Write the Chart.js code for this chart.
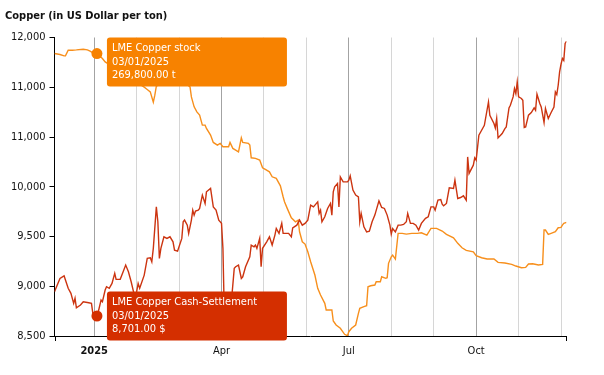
<!DOCTYPE html>
<html><head><meta charset="utf-8">
<script src="https://cdn.jsdelivr.net/npm/chart.js@4.4.1/dist/chart.umd.min.js"></script>
<style>html,body{margin:0;padding:0;background:#fff}#wrap{width:604px;height:375px;position:relative}</style>
</head><body><div id="wrap"><canvas id="c" width="604" height="375"></canvas></div>
<script>
const FONT = "'DejaVu Sans Condensed','Liberation Sans',sans-serif";
const titleText = 'Copper (in US Dollar per ton)';
const cashLabel = 'LME Copper Cash-Settlement';
const stockLabel = 'LME Copper stock';
const cashUnit = '$';
const stockUnit = 't';
const activeDate = '2025-01-03';
const xStart = '2024-12-03';
const xEnd = '2025-12-05';
// month gridlines: position 0 = Jan 2025 ... 11 = Dec 2025
const monthTickLabels = ['2025','','','Apr','','','Jul','','','Oct','',''];
const yMin = 8500, yMax = 11500, yStep = 500;
const stockMin = 90000, stockMax = 280000;

const cashDates = ['2024-12-03','2024-12-07','2024-12-10','2024-12-11','2024-12-13','2024-12-15','2024-12-17','2024-12-18','2024-12-19','2024-12-22','2024-12-24','2024-12-28','2024-12-30','2024-12-31',
'2025-01-03','2025-01-04','2025-01-06','2025-01-07','2025-01-09','2025-01-10','2025-01-12','2025-01-14','2025-01-16','2025-01-17','2025-01-20','2025-01-22','2025-01-24','2025-01-26','2025-01-28','2025-01-30','2025-01-31',
'2025-02-01','2025-02-02','2025-02-03','2025-02-06','2025-02-08','2025-02-10','2025-02-11','2025-02-12','2025-02-14','2025-02-15','2025-02-16','2025-02-17','2025-02-19','2025-02-21','2025-02-23','2025-02-25','2025-02-26','2025-02-28',
'2025-03-03','2025-03-04','2025-03-05','2025-03-07','2025-03-08','2025-03-10','2025-03-11','2025-03-12','2025-03-13','2025-03-15','2025-03-16','2025-03-18','2025-03-20','2025-03-21','2025-03-24','2025-03-26','2025-03-28','2025-03-30',
'2025-04-01','2025-04-02','2025-04-03','2025-04-04','2025-04-07','2025-04-08','2025-04-10','2025-04-11','2025-04-13','2025-04-15','2025-04-16','2025-04-18','2025-04-21','2025-04-22','2025-04-24','2025-04-25','2025-04-26','2025-04-28','2025-04-29','2025-04-30',
'2025-05-03','2025-05-05','2025-05-07','2025-05-09','2025-05-10','2025-05-12','2025-05-14','2025-05-15','2025-05-17','2025-05-19','2025-05-21','2025-05-22','2025-05-25','2025-05-27','2025-05-29','2025-05-31',
'2025-06-02','2025-06-04','2025-06-06','2025-06-09','2025-06-10','2025-06-11','2025-06-12','2025-06-14','2025-06-16','2025-06-18','2025-06-19','2025-06-20','2025-06-21','2025-06-23','2025-06-24','2025-06-25','2025-06-27','2025-06-29','2025-06-30',
'2025-07-01','2025-07-02','2025-07-04','2025-07-06','2025-07-08','2025-07-09','2025-07-10','2025-07-12','2025-07-14','2025-07-16','2025-07-18','2025-07-20','2025-07-23','2025-07-25','2025-07-27','2025-07-29','2025-07-31',
'2025-08-01','2025-08-02','2025-08-04','2025-08-06','2025-08-08','2025-08-10','2025-08-12','2025-08-13','2025-08-15','2025-08-17','2025-08-19','2025-08-21','2025-08-23','2025-08-26','2025-08-28','2025-08-30',
'2025-09-01','2025-09-02','2025-09-04','2025-09-06','2025-09-07','2025-09-08','2025-09-10','2025-09-12','2025-09-15','2025-09-16','2025-09-18','2025-09-20','2025-09-22','2025-09-24','2025-09-25','2025-09-26','2025-09-29','2025-09-30',
'2025-10-01','2025-10-03','2025-10-05','2025-10-07','2025-10-10','2025-10-11','2025-10-14','2025-10-15','2025-10-16','2025-10-17','2025-10-20','2025-10-22','2025-10-23','2025-10-25','2025-10-26','2025-10-28','2025-10-29','2025-10-30','2025-10-31',
'2025-11-01','2025-11-03','2025-11-04','2025-11-05','2025-11-06','2025-11-08','2025-11-10','2025-11-12','2025-11-13','2025-11-14','2025-11-16','2025-11-17','2025-11-19','2025-11-20','2025-11-22','2025-11-24','2025-11-26','2025-11-27','2025-11-28','2025-11-29','2025-11-30',
'2025-12-01','2025-12-02','2025-12-03','2025-12-04','2025-12-05'];
const cashValues = [8945,9079,9105,9062,8979,8929,8828,8879,8784,8811,8844,8834,8828,8728,
8701,8744,8861,8844,8962,8995,8979,9029,9130,9069,9070,9140,9213,9146,9045,8929,8880,
8945,9029,8979,9112,9280,9286,9246,9381,9798,9648,9280,9381,9497,9481,9497,9447,9363,9353,
9481,9648,9665,9614,9531,9665,9765,9715,9755,9765,9782,9916,9832,9949,9983,9798,9765,9665,
9632,9381,8700,8400,8300,8850,9180,9196,9213,9079,9095,9196,9296,9414,9397,9414,9381,9481,9196,9381,
9447,9497,9414,9514,9581,9531,9632,9531,9531,9531,9497,9587,9614,9665,9614,9632,
9665,9815,9798,9848,9732,9765,9648,9698,9782,9832,9715,9949,9999,10033,9798,10099,10049,10049,10049,
10066,10109,9966,9916,9899,9648,9732,9597,9547,9554,9648,9715,9858,9792,9782,9715,9614,
9524,9581,9547,9614,9614,9621,9648,9732,9632,9632,9614,9564,9632,9682,9698,9798,
9798,9765,9866,9872,9825,9808,9832,9989,9983,10066,9882,9892,9909,9865,10300,10134,10217,10290,
10267,10518,10568,10618,10852,10719,10636,10591,10686,10491,10535,10585,10601,10792,10819,10903,10987,10937,11053,
10903,10887,10869,10595,10601,10719,10746,10792,10769,10930,10836,10802,10646,10786,10686,10746,10802,10953,10927,11020,11154,
11231,11290,11270,11440,11462];

const stockDates = ['2024-12-03','2024-12-07','2024-12-10','2024-12-11','2024-12-13','2024-12-16','2024-12-19','2024-12-24','2024-12-27','2024-12-29','2024-12-31',
'2025-01-03','2025-01-07','2025-01-09','2025-01-14','2025-01-20','2025-01-27',
'2025-02-03','2025-02-06','2025-02-08','2025-02-10','2025-02-12','2025-02-13','2025-02-14','2025-02-20','2025-02-27',
'2025-03-04','2025-03-07','2025-03-09','2025-03-10','2025-03-12','2025-03-14','2025-03-16','2025-03-18','2025-03-20','2025-03-21','2025-03-24','2025-03-26','2025-03-29','2025-03-31',
'2025-04-02','2025-04-06','2025-04-07','2025-04-09','2025-04-11','2025-04-13','2025-04-15','2025-04-16','2025-04-20','2025-04-21','2025-04-22','2025-04-25','2025-04-28','2025-04-30',
'2025-05-02','2025-05-05','2025-05-07','2025-05-10','2025-05-13','2025-05-15','2025-05-16','2025-05-18','2025-05-21','2025-05-24','2025-05-26','2025-05-27','2025-05-29','2025-05-31',
'2025-06-02','2025-06-04','2025-06-07','2025-06-09','2025-06-11','2025-06-14','2025-06-15','2025-06-19','2025-06-20','2025-06-22','2025-06-25','2025-06-28','2025-06-30',
'2025-07-01','2025-07-03','2025-07-06','2025-07-08','2025-07-09','2025-07-12','2025-07-14','2025-07-15','2025-07-17','2025-07-20','2025-07-21','2025-07-24','2025-07-25','2025-07-28','2025-07-29','2025-07-30',
'2025-08-01','2025-08-02','2025-08-04','2025-08-06','2025-08-09','2025-08-12','2025-08-16','2025-08-20','2025-08-23','2025-08-27','2025-08-30',
'2025-09-03','2025-09-07','2025-09-10','2025-09-15','2025-09-18','2025-09-21','2025-09-24','2025-09-29',
'2025-10-01','2025-10-05','2025-10-09','2025-10-14','2025-10-17','2025-10-22','2025-10-27','2025-10-30',
'2025-11-03','2025-11-06','2025-11-08','2025-11-11','2025-11-15','2025-11-18','2025-11-19','2025-11-20','2025-11-22','2025-11-24','2025-11-27','2025-11-29',
'2025-12-01','2025-12-02','2025-12-03','2025-12-05'];
const stockValues = [269800,269190,268300,268300,271900,271900,272100,272550,272100,271300,270200,
269800,266650,264480,261750,257930,252840,
250300,248390,246930,245400,238850,243300,249000,252000,254000,
252000,250000,248600,242200,235860,232680,230580,224220,224220,222120,217860,213210,211500,212580,
210420,210420,213210,209400,208310,207230,216140,213210,212580,211500,203420,203030,201950,197050,
196030,194510,191330,190310,185610,178610,175430,171230,165250,162710,163790,156350,149980,148520,
143620,137260,128800,120340,116080,110800,106540,106540,99540,97000,94900,91080,90190,
92740,94900,97000,104440,107620,108640,109270,121360,122000,122440,124540,124540,127720,126700,127080,136240,
140440,141520,138980,155330,155330,154880,155330,155330,155710,154250,158510,
158510,156790,154690,152530,148970,146170,144510,143620,
141080,139810,138980,138980,136880,136440,135610,134530,
133450,133700,135800,135990,135160,135610,157430,157430,154690,155330,156350,158890,
159140,160610,161690,162330];

const STOCK_COLOR = '#f78f1c', STOCK_TIP = '#f78200';
const CASH_COLOR = '#cc3410', CASH_TIP = '#d42f00';

function pos(s){const [y,m,d]=s.split('-').map(Number);const dim=new Date(Date.UTC(y,m,0)).getUTCDate();return (y-2025)*12+(m-1)+(d-1)/dim;}
function fmtDate(s){const [y,m,d]=s.split('-');return d+'/'+m+'/'+y;}
function fmtNum(v){return v.toLocaleString('en-US',{minimumFractionDigits:2,maximumFractionDigits:2});}
function fmtAxis(v){const p=Math.pow(10,Math.floor(Math.log10(v))-1);return (Math.round(v/p)*p).toLocaleString('en-US');}

const tipPlugin = {
  id:'pinnedTips',
  afterDraw(chart){
    const {ctx, chartArea} = chart;
    const specs = [
      {ds:0, bg:STOCK_TIP, dates:stockDates, vals:stockValues, label:stockLabel, unit:stockUnit},
      {ds:1, bg:CASH_TIP, dates:cashDates, vals:cashValues, label:cashLabel, unit:cashUnit}
    ];
    ctx.save();
    const W = 180, H = 49, lh = 13.5;
    for (const s of specs){
      const idx = s.dates.indexOf(activeDate);
      const el = chart.getDatasetMeta(s.ds).data[idx];
      let top = el.y - H/2;
      if (top < chartArea.top) top = chartArea.top;
      const left = el.x + 10;
      ctx.fillStyle = s.bg;
      ctx.beginPath();
      ctx.roundRect(left, top, W, H, 3);
      ctx.fill();
      ctx.fillStyle = '#fff';
      ctx.font = '11px ' + FONT;
      ctx.textBaseline = 'middle';
      ctx.textAlign = 'left';
      const lines = [s.label, fmtDate(activeDate), fmtNum(s.vals[idx]) + ' ' + s.unit];
      lines.forEach((t,i)=>ctx.fillText(t, left + 5, top + 11 + i*lh));
    }
    ctx.restore();
  }
};
const endTicks = {
  id:'endTicks',
  afterDraw(chart){
    const {ctx, chartArea:a} = chart;
    ctx.save(); ctx.strokeStyle='#000'; ctx.lineWidth=1;
    ctx.beginPath();
    ctx.moveTo(Math.round(a.left)+0.5, a.bottom); ctx.lineTo(Math.round(a.left)+0.5, a.bottom+5);
    ctx.moveTo(Math.round(a.right)-0.5, a.bottom); ctx.lineTo(Math.round(a.right)-0.5, a.bottom+5);
    ctx.stroke(); ctx.restore();
  }
};

new Chart(document.getElementById('c').getContext('2d'), {
  type:'line',
  data:{datasets:[
    {label:stockLabel, yAxisID:'y2', data:stockDates.map((d,i)=>({x:pos(d),y:stockValues[i]})),
     borderColor:STOCK_COLOR, borderWidth:1.4, tension:0, order:2,
     pointRadius:c=>stockDates[c.dataIndex]===activeDate?5.5:0, pointBackgroundColor:STOCK_TIP, pointBorderWidth:0},
    {label:cashLabel, yAxisID:'y', data:cashDates.map((d,i)=>({x:pos(d),y:cashValues[i]})),
     borderColor:CASH_COLOR, borderWidth:1.4, tension:0, order:1,
     pointRadius:c=>cashDates[c.dataIndex]===activeDate?5.5:0, pointBackgroundColor:CASH_TIP, pointBorderWidth:0}
  ]},
  options:{
    responsive:false, animation:false, events:[],
    layout:{padding:{top:0,left:5,right:37.5,bottom:0}},
    plugins:{
      legend:{display:false}, tooltip:{enabled:false},
      title:{display:true, text:titleText, align:'start', color:'#111',
        font:{family:FONT,size:11,weight:'bold'}, padding:{top:10,bottom:14.3}}
    },
    scales:{
      x:{type:'linear', min:pos(xStart), max:pos(xEnd),
        afterBuildTicks:s=>{s.ticks=monthTickLabels.map((l,i)=>({value:i}));},
        afterFit:s=>{s.height=39;},
        grid:{drawTicks:false, color:c=>(c.tick && c.tick.value%3===0)?'#a3a3a3':'#d6d6d6', lineWidth:1},
        border:{color:'#000', width:1},
        ticks:{autoSkip:false, maxRotation:0, padding:9, color:'#111',
          callback:v=>monthTickLabels[v]??'',
          font:c=>({family:FONT,size:11,weight:(c.tick && c.tick.value===0)?'bold':'normal'})}
      },
      y:{min:yMin, max:yMax,
        afterFit:s=>{s.width=49.5;},
        grid:{drawOnChartArea:false, drawTicks:true, tickLength:5, color:'#000'},
        border:{color:'#000', width:1},
        ticks:{stepSize:yStep, padding:4, color:'#111', font:{family:FONT,size:11}, callback:v=>fmtAxis(v)}
      },
      y2:{display:false, min:stockMin, max:stockMax}
    }
  },
  plugins:[tipPlugin, endTicks]
});
</script></body></html>
